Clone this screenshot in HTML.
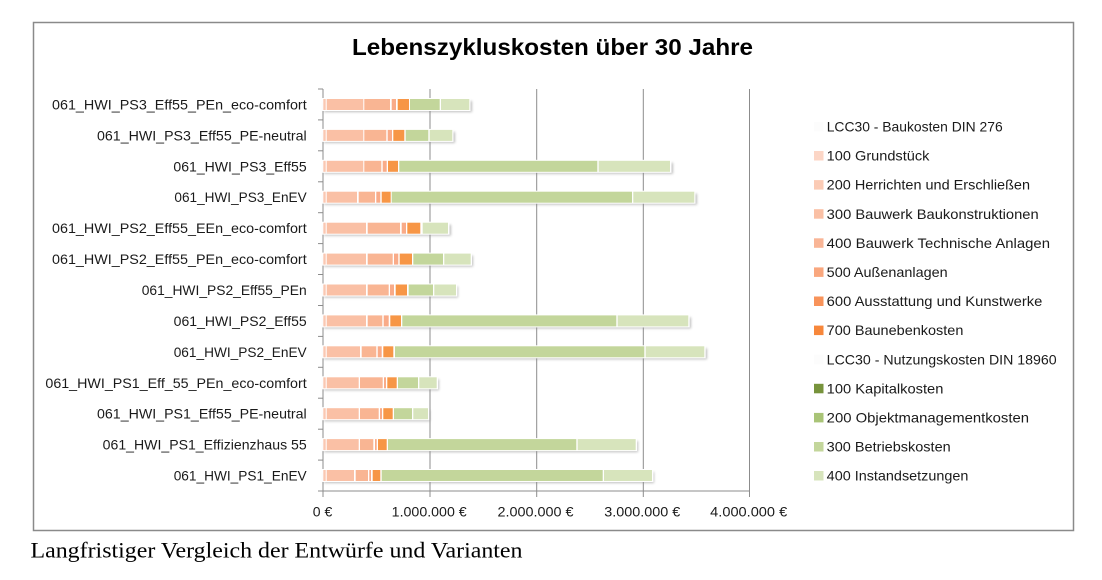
<!DOCTYPE html>
<html><head><meta charset="utf-8"><style>
html,body{margin:0;padding:0;background:#fff;}
svg{display:block;}
text{font-family:"Liberation Sans",sans-serif;fill:#1a1a1a;}
</style></head><body>
<svg width="1102" height="580" viewBox="0 0 1102 580" xmlns="http://www.w3.org/2000/svg">
<defs>
<filter id="sh" x="-5%" y="-50%" width="110%" height="200%"><feGaussianBlur stdDeviation="1.2"/></filter>
</defs>
<rect x="0" y="0" width="1102" height="580" fill="#fff"/>
<rect x="33.5" y="22.5" width="1040" height="508" fill="#fff" stroke="#8a8a8a" stroke-width="1.5"/>
<text x="352" y="55" font-size="23" font-weight="bold" textLength="401" lengthAdjust="spacingAndGlyphs" style="fill:#000">Lebenszykluskosten über 30 Jahre</text>

<!-- gridlines -->
<g stroke="#8c8c8c" stroke-width="1">
<line x1="430" y1="89" x2="430" y2="497"/>
<line x1="536.7" y1="89" x2="536.7" y2="497"/>
<line x1="643.3" y1="89" x2="643.3" y2="497"/>
<line x1="749.5" y1="89" x2="749.5" y2="497"/>
<line x1="323" y1="89" x2="323" y2="497"/>
<line x1="323" y1="491" x2="749.5" y2="491"/>
<line x1="318" y1="89" x2="323" y2="89"/>
<line x1="318" y1="119.9" x2="323" y2="119.9"/>
<line x1="318" y1="150.8" x2="323" y2="150.8"/>
<line x1="318" y1="181.8" x2="323" y2="181.8"/>
<line x1="318" y1="212.7" x2="323" y2="212.7"/>
<line x1="318" y1="243.6" x2="323" y2="243.6"/>
<line x1="318" y1="274.5" x2="323" y2="274.5"/>
<line x1="318" y1="305.5" x2="323" y2="305.5"/>
<line x1="318" y1="336.4" x2="323" y2="336.4"/>
<line x1="318" y1="367.3" x2="323" y2="367.3"/>
<line x1="318" y1="398.2" x2="323" y2="398.2"/>
<line x1="318" y1="429.2" x2="323" y2="429.2"/>
<line x1="318" y1="460.1" x2="323" y2="460.1"/>
<line x1="318" y1="491" x2="323" y2="491"/>
</g>

<!-- y labels -->
<g font-size="14" text-anchor="end">
<text x="306.7" y="109.5" textLength="254.7" lengthAdjust="spacingAndGlyphs">061_HWI_PS3_Eff55_PEn_eco-comfort</text>
<text x="306.7" y="140.4" textLength="209.7" lengthAdjust="spacingAndGlyphs">061_HWI_PS3_Eff55_PE-neutral</text>
<text x="306.7" y="171.3" textLength="133.3" lengthAdjust="spacingAndGlyphs">061_HWI_PS3_Eff55</text>
<text x="306.7" y="202.2" textLength="132.3" lengthAdjust="spacingAndGlyphs">061_HWI_PS3_EnEV</text>
<text x="306.7" y="233.2" textLength="254.7" lengthAdjust="spacingAndGlyphs">061_HWI_PS2_Eff55_EEn_eco-comfort</text>
<text x="306.7" y="264.1" textLength="254.7" lengthAdjust="spacingAndGlyphs">061_HWI_PS2_Eff55_PEn_eco-comfort</text>
<text x="306.7" y="295.0" textLength="165" lengthAdjust="spacingAndGlyphs">061_HWI_PS2_Eff55_PEn</text>
<text x="306.7" y="325.9" textLength="133" lengthAdjust="spacingAndGlyphs">061_HWI_PS2_Eff55</text>
<text x="306.7" y="356.8" textLength="133" lengthAdjust="spacingAndGlyphs">061_HWI_PS2_EnEV</text>
<text x="306.7" y="387.8" textLength="261.3" lengthAdjust="spacingAndGlyphs">061_HWI_PS1_Eff_55_PEn_eco-comfort</text>
<text x="306.7" y="418.7" textLength="209.7" lengthAdjust="spacingAndGlyphs">061_HWI_PS1_Eff55_PE-neutral</text>
<text x="306.7" y="449.6" textLength="204" lengthAdjust="spacingAndGlyphs">061_HWI_PS1_Effizienzhaus 55</text>
<text x="306.7" y="480.5" textLength="133" lengthAdjust="spacingAndGlyphs">061_HWI_PS1_EnEV</text>
</g>

<!-- x labels -->
<g font-size="14" text-anchor="middle">
<text x="322.5" y="516.5">0 €</text>
<text x="429.2" y="516.5" textLength="75" lengthAdjust="spacingAndGlyphs">1.000.000 €</text>
<text x="535.5" y="516.5" textLength="76" lengthAdjust="spacingAndGlyphs">2.000.000 €</text>
<text x="642.3" y="516.5" textLength="76" lengthAdjust="spacingAndGlyphs">3.000.000 €</text>
<text x="748.7" y="516.5" textLength="77" lengthAdjust="spacingAndGlyphs">4.000.000 €</text>
</g>

<!-- bars -->
<g id="bars">
<rect x="324" y="101" width="148" height="11" fill="#8a8a8a" opacity="0.55" filter="url(#sh)"/>
<rect x="322.5" y="98" width="148" height="13" fill="#fff"/>
<rect x="323.3" y="99" width="2.4" height="11" fill="#fac8b2"/>
<rect x="326.7" y="99" width="36.6" height="11" fill="#fac0a5"/>
<rect x="364.3" y="99" width="25.7" height="11" fill="#f9b593"/>
<rect x="391.7" y="99" width="4.3" height="11" fill="#f9ab88"/>
<rect x="397.7" y="99" width="11.3" height="11" fill="#f79646"/>
<rect x="410" y="99" width="29.7" height="11" fill="#c3d69b"/>
<rect x="441" y="99" width="28.3" height="11" fill="#d7e4bc"/>

<rect x="324" y="131.9" width="131" height="11" fill="#8a8a8a" opacity="0.55" filter="url(#sh)"/>
<rect x="322.5" y="128.9" width="131" height="13" fill="#fff"/>
<rect x="323.3" y="129.9" width="2.4" height="11" fill="#fac8b2"/>
<rect x="326.7" y="129.9" width="36.6" height="11" fill="#fac0a5"/>
<rect x="364.3" y="129.9" width="22" height="11" fill="#f9b593"/>
<rect x="387.7" y="129.9" width="4.3" height="11" fill="#f9ab88"/>
<rect x="393.3" y="129.9" width="11" height="11" fill="#f79646"/>
<rect x="405.7" y="129.9" width="22.6" height="11" fill="#c3d69b"/>
<rect x="429.7" y="129.9" width="22.6" height="11" fill="#d7e4bc"/>

<rect x="324" y="162.8" width="349" height="11" fill="#8a8a8a" opacity="0.55" filter="url(#sh)"/>
<rect x="322.5" y="159.8" width="349" height="13" fill="#fff"/>
<rect x="323.3" y="160.8" width="2.4" height="11" fill="#fac8b2"/>
<rect x="326.7" y="160.8" width="36.6" height="11" fill="#fac0a5"/>
<rect x="364.3" y="160.8" width="17" height="11" fill="#f9b593"/>
<rect x="382.7" y="160.8" width="4" height="11" fill="#f9ab88"/>
<rect x="388" y="160.8" width="10" height="11" fill="#f79646"/>
<rect x="399.3" y="160.8" width="198" height="11" fill="#c3d69b"/>
<rect x="598.7" y="160.8" width="71.3" height="11" fill="#d7e4bc"/>

<rect x="324" y="193.7" width="373" height="11" fill="#8a8a8a" opacity="0.55" filter="url(#sh)"/>
<rect x="322.5" y="190.7" width="373" height="13" fill="#fff"/>
<rect x="323.3" y="191.7" width="2.4" height="11" fill="#fac8b2"/>
<rect x="326.7" y="191.7" width="30.3" height="11" fill="#fac0a5"/>
<rect x="358.7" y="191.7" width="16.3" height="11" fill="#f9b593"/>
<rect x="376.3" y="191.7" width="4" height="11" fill="#f9ab88"/>
<rect x="381.7" y="191.7" width="9" height="11" fill="#f79646"/>
<rect x="391.7" y="191.7" width="240.3" height="11" fill="#c3d69b"/>
<rect x="633.3" y="191.7" width="61" height="11" fill="#d7e4bc"/>

<rect x="324" y="224.7" width="127" height="11" fill="#8a8a8a" opacity="0.55" filter="url(#sh)"/>
<rect x="322.5" y="221.7" width="127" height="13" fill="#fff"/>
<rect x="323.3" y="222.7" width="2.4" height="11" fill="#fac8b2"/>
<rect x="326.7" y="222.7" width="39.3" height="11" fill="#fac0a5"/>
<rect x="367.7" y="222.7" width="32.3" height="11" fill="#f9b593"/>
<rect x="401.7" y="222.7" width="4.3" height="11" fill="#f9ab88"/>
<rect x="407.3" y="222.7" width="13" height="11" fill="#f79646"/>
<rect x="422.7" y="222.7" width="25.3" height="11" fill="#d7e4bc"/>

<rect x="324" y="255.6" width="149" height="11" fill="#8a8a8a" opacity="0.55" filter="url(#sh)"/>
<rect x="322.5" y="252.6" width="149.5" height="13" fill="#fff"/>
<rect x="323.3" y="253.6" width="2.4" height="11" fill="#fac8b2"/>
<rect x="326.7" y="253.6" width="39.3" height="11" fill="#fac0a5"/>
<rect x="367.7" y="253.6" width="25" height="11" fill="#f9b593"/>
<rect x="394" y="253.6" width="4.3" height="11" fill="#f9ab88"/>
<rect x="399.7" y="253.6" width="12.3" height="11" fill="#f79646"/>
<rect x="413.3" y="253.6" width="29.7" height="11" fill="#c3d69b"/>
<rect x="444.3" y="253.6" width="26.4" height="11" fill="#d7e4bc"/>

<rect x="324" y="286.5" width="134" height="11" fill="#8a8a8a" opacity="0.55" filter="url(#sh)"/>
<rect x="322.5" y="283.5" width="134.8" height="13" fill="#fff"/>
<rect x="323.3" y="284.5" width="2.4" height="11" fill="#fac8b2"/>
<rect x="326.7" y="284.5" width="39.3" height="11" fill="#fac0a5"/>
<rect x="367.7" y="284.5" width="21" height="11" fill="#f9b593"/>
<rect x="390" y="284.5" width="4" height="11" fill="#f9ab88"/>
<rect x="395.7" y="284.5" width="11.3" height="11" fill="#f79646"/>
<rect x="408.7" y="284.5" width="24.3" height="11" fill="#c3d69b"/>
<rect x="434.3" y="284.5" width="21.7" height="11" fill="#d7e4bc"/>

<rect x="324" y="317.4" width="367" height="11" fill="#8a8a8a" opacity="0.55" filter="url(#sh)"/>
<rect x="322.5" y="314.4" width="367.2" height="13" fill="#fff"/>
<rect x="323.3" y="315.4" width="2.4" height="11" fill="#fac8b2"/>
<rect x="326.7" y="315.4" width="39.3" height="11" fill="#fac0a5"/>
<rect x="367.7" y="315.4" width="14.6" height="11" fill="#f9b593"/>
<rect x="383.7" y="315.4" width="5" height="11" fill="#f9ab88"/>
<rect x="390.3" y="315.4" width="10.7" height="11" fill="#f79646"/>
<rect x="402.3" y="315.4" width="214" height="11" fill="#c3d69b"/>
<rect x="617.7" y="315.4" width="70.6" height="11" fill="#d7e4bc"/>

<rect x="324" y="348.3" width="383" height="11" fill="#8a8a8a" opacity="0.55" filter="url(#sh)"/>
<rect x="322.5" y="345.3" width="383.2" height="13" fill="#fff"/>
<rect x="323.3" y="346.3" width="2.4" height="11" fill="#fac8b2"/>
<rect x="326.7" y="346.3" width="33.3" height="11" fill="#fac0a5"/>
<rect x="361.7" y="346.3" width="14.6" height="11" fill="#f9b593"/>
<rect x="377.7" y="346.3" width="4" height="11" fill="#f9ab88"/>
<rect x="383.3" y="346.3" width="10" height="11" fill="#f79646"/>
<rect x="395" y="346.3" width="249.3" height="11" fill="#c3d69b"/>
<rect x="645.7" y="346.3" width="58.6" height="11" fill="#d7e4bc"/>

<rect x="324" y="379.3" width="115" height="11" fill="#8a8a8a" opacity="0.55" filter="url(#sh)"/>
<rect x="322.5" y="376.3" width="115.6" height="13" fill="#fff"/>
<rect x="323.3" y="377.3" width="2.4" height="11" fill="#fac8b2"/>
<rect x="326.7" y="377.3" width="32" height="11" fill="#fac0a5"/>
<rect x="360" y="377.3" width="22.7" height="11" fill="#f9b593"/>
<rect x="384" y="377.3" width="2" height="11" fill="#f9ab88"/>
<rect x="387.3" y="377.3" width="9.4" height="11" fill="#f79646"/>
<rect x="398" y="377.3" width="20" height="11" fill="#c3d69b"/>
<rect x="419.3" y="377.3" width="17.4" height="11" fill="#d7e4bc"/>

<rect x="324" y="410.2" width="106" height="11" fill="#8a8a8a" opacity="0.55" filter="url(#sh)"/>
<rect x="322.5" y="407.2" width="106.9" height="13" fill="#fff"/>
<rect x="323.3" y="408.2" width="2.4" height="11" fill="#fac8b2"/>
<rect x="326.7" y="408.2" width="32" height="11" fill="#fac0a5"/>
<rect x="360" y="408.2" width="18.7" height="11" fill="#f9b593"/>
<rect x="380" y="408.2" width="2" height="11" fill="#f9ab88"/>
<rect x="383.3" y="408.2" width="9.4" height="11" fill="#f79646"/>
<rect x="394" y="408.2" width="18" height="11" fill="#c3d69b"/>
<rect x="413.3" y="408.2" width="14.7" height="11" fill="#d7e4bc"/>

<rect x="324" y="441.1" width="314" height="11" fill="#8a8a8a" opacity="0.55" filter="url(#sh)"/>
<rect x="322.5" y="438.1" width="314.6" height="13" fill="#fff"/>
<rect x="323.3" y="439.1" width="2.4" height="11" fill="#fac8b2"/>
<rect x="326.7" y="439.1" width="32" height="11" fill="#fac0a5"/>
<rect x="360" y="439.1" width="13.3" height="11" fill="#f9b593"/>
<rect x="375" y="439.1" width="1.7" height="11" fill="#f9ab88"/>
<rect x="378" y="439.1" width="8.7" height="11" fill="#f79646"/>
<rect x="388" y="439.1" width="188.3" height="11" fill="#c3d69b"/>
<rect x="577.7" y="439.1" width="58" height="11" fill="#d7e4bc"/>

<rect x="324" y="472" width="330" height="11" fill="#8a8a8a" opacity="0.55" filter="url(#sh)"/>
<rect x="322.5" y="469" width="330.9" height="13" fill="#fff"/>
<rect x="323.3" y="470" width="2.4" height="11" fill="#fac8b2"/>
<rect x="326.7" y="470" width="27.3" height="11" fill="#fac0a5"/>
<rect x="355.7" y="470" width="12.3" height="11" fill="#f9b593"/>
<rect x="369.3" y="470" width="1.7" height="11" fill="#f9ab88"/>
<rect x="372.7" y="470" width="7.6" height="11" fill="#f79646"/>
<rect x="381.7" y="470" width="221" height="11" fill="#c3d69b"/>
<rect x="604" y="470" width="48" height="11" fill="#d7e4bc"/>
</g>

<!-- legend -->
<g>
<rect x="814" y="122" width="9.5" height="9.5" fill="#fcfcfc"/>
<rect x="814" y="151" width="9.5" height="9.5" fill="#fcd6c6"/>
<rect x="814" y="180.1" width="9.5" height="9.5" fill="#fbcbb5"/>
<rect x="814" y="209.2" width="9.5" height="9.5" fill="#fac0a5"/>
<rect x="814" y="238.3" width="9.5" height="9.5" fill="#f9b596"/>
<rect x="814" y="267.4" width="9.5" height="9.5" fill="#f9a77e"/>
<rect x="814" y="296.5" width="9.5" height="9.5" fill="#f8935a"/>
<rect x="814" y="325.6" width="9.5" height="9.5" fill="#f7873b"/>
<rect x="814" y="354.7" width="9.5" height="9.5" fill="#fcfcfc"/>
<rect x="814" y="383.8" width="9.5" height="9.5" fill="#77933c"/>
<rect x="814" y="412.9" width="9.5" height="9.5" fill="#a9c477"/>
<rect x="814" y="442" width="9.5" height="9.5" fill="#c3d69b"/>
<rect x="814" y="471" width="9.5" height="9.5" fill="#d7e4bc"/>
</g>
<g font-size="14">
<text x="826.7" y="131.6" textLength="176" lengthAdjust="spacingAndGlyphs">LCC30 - Baukosten DIN 276</text>
<text x="826.7" y="160.6" textLength="102.7" lengthAdjust="spacingAndGlyphs">100 Grundstück</text>
<text x="826.7" y="189.7" textLength="203.3" lengthAdjust="spacingAndGlyphs">200 Herrichten und Erschließen</text>
<text x="826.7" y="218.8" textLength="212" lengthAdjust="spacingAndGlyphs">300 Bauwerk Baukonstruktionen</text>
<text x="826.7" y="247.9" textLength="223.3" lengthAdjust="spacingAndGlyphs">400 Bauwerk Technische Anlagen</text>
<text x="826.7" y="277" textLength="121" lengthAdjust="spacingAndGlyphs">500 Außenanlagen</text>
<text x="826.7" y="306.1" textLength="215.7" lengthAdjust="spacingAndGlyphs">600 Ausstattung und Kunstwerke</text>
<text x="826.7" y="335.2" textLength="136.7" lengthAdjust="spacingAndGlyphs">700 Baunebenkosten</text>
<text x="826.7" y="364.3" textLength="230" lengthAdjust="spacingAndGlyphs">LCC30 - Nutzungskosten DIN 18960</text>
<text x="826.7" y="393.4" textLength="116.7" lengthAdjust="spacingAndGlyphs">100 Kapitalkosten</text>
<text x="826.7" y="422.5" textLength="202.3" lengthAdjust="spacingAndGlyphs">200 Objektmanagementkosten</text>
<text x="826.7" y="451.6" textLength="124" lengthAdjust="spacingAndGlyphs">300 Betriebskosten</text>
<text x="826.7" y="480.6" textLength="141.7" lengthAdjust="spacingAndGlyphs">400 Instandsetzungen</text>
</g>

<text x="30.5" y="557.5" font-size="22" textLength="492" lengthAdjust="spacingAndGlyphs" style="font-family:'Liberation Serif',serif;fill:#000">Langfristiger Vergleich der Entwürfe und Varianten</text>
</svg>
</body></html>
